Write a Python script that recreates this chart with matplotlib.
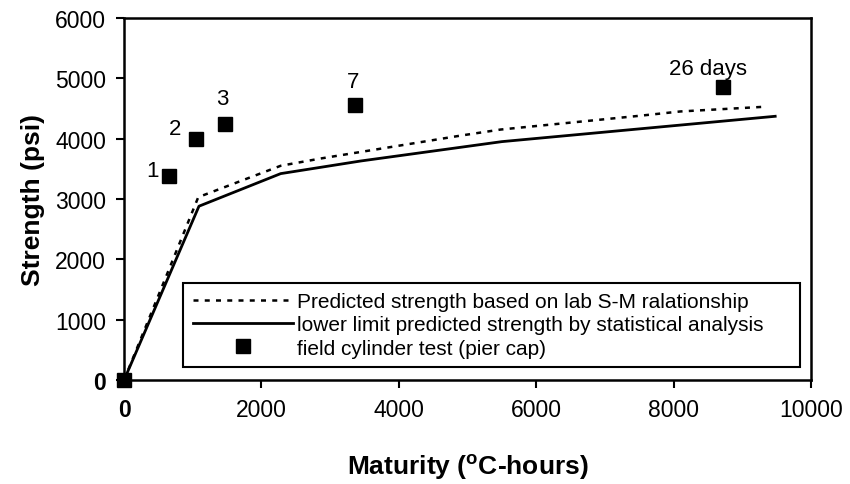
import matplotlib
matplotlib.use('Agg')
import matplotlib.pyplot as plt

plt.rcParams['font.family'] = ['Liberation Sans', 'DejaVu Sans']

# Predicted strength from lab S-M relationship (dotted)
pred_x = [0, 1080, 2280, 2860, 4900, 5480, 7520, 8100, 9360]
pred_y = [0, 3030, 3550, 3670, 4050, 4150, 4380, 4450, 4530]

# Lower limit from statistical analysis (solid)
lower_x = [0, 1090, 2280, 3450, 5500, 9480]
lower_y = [0, 2880, 3420, 3630, 3950, 4370]

# Field cylinder tests on the pier cap
field_x = [0, 655, 1045, 1470, 3360, 8720]
field_y = [0, 3380, 4000, 4250, 4560, 4860]
field_labels = ['', '1', '2', '3', '7', '26 days']
label_offsets = [(0, 0), (-12, 4), (-15, 7), (-2, 18), (-1, 17), (-11, 13)]

fig = plt.figure(figsize=(8.5, 4.85), dpi=100)
ax = fig.add_axes([0.146, 0.2144, 0.808, 0.7466])

ax.plot(pred_x, pred_y, color='black', linestyle=(0, (2, 2.5)), linewidth=1.8,
        label='Predicted strength based on lab S-M ralationship')
ax.plot(lower_x, lower_y, color='black', linestyle='-', linewidth=2,
        label='lower limit predicted strength by statistical analysis')
ax.plot(field_x, field_y, linestyle='none', marker='s', markersize=10,
        color='black', clip_on=False, zorder=5,
        label='field cylinder test (pier cap)')

for x, y, txt, off in zip(field_x, field_y, field_labels, label_offsets):
    if txt:
        ax.annotate(txt, (x, y), xytext=off, textcoords='offset points',
                    ha='center', va='center', fontsize=16)

ax.set_xlim(0, 10000)
ax.set_ylim(0, 6000)
ax.set_xticks(range(0, 10001, 2000))
ax.set_yticks(range(0, 6001, 1000))
ax.tick_params(direction='out', length=6, width=1.5, labelsize=16.5, pad=7)
for lbl in ax.get_xticklabels() + ax.get_yticklabels():
    if lbl.get_text() == '0':
        lbl.set_fontweight('bold')
for sp in ax.spines.values():
    sp.set_linewidth(1.8)

ax.set_xlabel(r'Maturity ($^{\mathregular{o}}$C-hours)', fontsize=19,
              fontweight='bold', labelpad=22)
ax.set_ylabel('Strength (psi)', fontsize=19, fontweight='bold', labelpad=7)

leg = ax.legend(loc='lower left', bbox_to_anchor=(0.086, 0.036, 0.898, 0.24),
                mode='expand', borderaxespad=0, fontsize=15, handlelength=4.8,
                handletextpad=0.2, borderpad=0.45, labelspacing=0.2,
                fancybox=False, framealpha=1, edgecolor='black')
leg.get_frame().set_linewidth(1.5)
leg.set_zorder(6)

fig.savefig('out.png', dpi=100)
plt.close(fig)
